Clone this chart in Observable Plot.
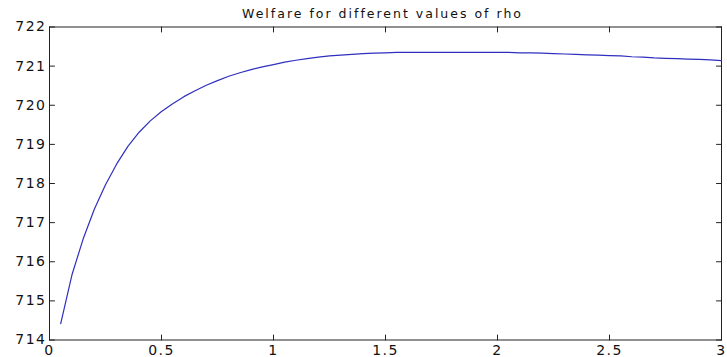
<!DOCTYPE html>
<html>
<head>
<meta charset="utf-8">
<script src="https://cdn.jsdelivr.net/npm/d3@7"></script>
<script src="https://cdn.jsdelivr.net/npm/@observablehq/plot@0.6"></script>
<style>
  html, body { margin: 0; padding: 0; background: #fff; }
  #chart svg text { letter-spacing: 1.5px; }
  #chart svg g.title text { letter-spacing: 2px; }
</style>
</head>
<body>
<div id="chart"></div>
<script>
const titleText = "Welfare for different values of rho";
const rho = [0.05,0.10,0.15,0.20,0.25,0.30,0.35,0.40,0.45,0.50,
             0.55,0.60,0.65,0.70,0.75,0.80,0.85,0.90,0.95,1.00,
             1.05,1.10,1.15,1.20,1.25,1.30,1.35,1.40,1.45,1.50,
             1.55,1.60,1.65,1.70,1.75,1.80,1.85,1.90,1.95,2.00,
             2.05,2.10,2.15,2.20,2.25,2.30,2.35,2.40,2.45,2.50,
             2.55,2.60,2.65,2.70,2.75,2.80,2.85,2.90,2.95,3.00];
const welfare = [714.42,715.66,716.58,717.34,717.97,718.50,718.95,719.31,719.60,719.84,
                 720.04,720.22,720.37,720.51,720.63,720.74,720.83,720.91,720.98,721.04,
                 721.10,721.15,721.19,721.23,721.26,721.28,721.30,721.32,721.33,721.34,
                 721.35,721.35,721.35,721.35,721.35,721.35,721.35,721.35,721.35,721.35,
                 721.35,721.34,721.34,721.33,721.32,721.31,721.30,721.29,721.28,721.27,
                 721.26,721.24,721.23,721.21,721.20,721.19,721.18,721.17,721.16,721.14];
const xTicks = [0, 0.5, 1, 1.5, 2, 2.5, 3];
const xTickLabels = ["0", "0.5", "1", "1.5", "2", "2.5", "3"];
const yTicks = [714, 715, 716, 717, 718, 719, 720, 721, 722];
const yTickLabels = ["714", "715", "716", "717", "718", "719", "720", "721", "722"];

const data = rho.map((r, i) => ({rho: r, welfare: welfare[i]}));
const axisColor = "#222";
const tickShape = {draw(context, l) { context.moveTo(0, 0); context.lineTo(0, -l); }};
const tickOpts = {length: 5, anchor: "start", shape: tickShape, stroke: axisColor, strokeWidth: 1};

const plot = Plot.plot({
  width: 727,
  height: 357,
  marginLeft: 49,
  marginRight: 6,
  marginTop: 26.5,
  marginBottom: 17.5,
  style: {fontFamily: "DejaVu Sans", fontSize: "14px", color: "#111", background: "#fff"},
  x: {domain: [0, 3]},
  y: {domain: [714, 722]},
  marks: [
    Plot.frame({stroke: axisColor, strokeWidth: 1}),
    // inward ticks on all four sides
    Plot.vector(xTicks, {x: (d) => d, frameAnchor: "bottom", rotate: 0, ...tickOpts}),
    Plot.vector(xTicks, {x: (d) => d, frameAnchor: "top", rotate: 180, ...tickOpts}),
    Plot.vector(yTicks, {y: (d) => d, frameAnchor: "left", rotate: 90, ...tickOpts}),
    Plot.vector(yTicks, {y: (d) => d, frameAnchor: "right", rotate: -90, ...tickOpts}),
    Plot.axisX(xTicks, {anchor: "bottom", tickSize: 0, tickPadding: 5.5,
      tickFormat: (d) => xTickLabels[xTicks.indexOf(d)], fill: "#111", label: null}),
    Plot.axisY(yTicks, {anchor: "left", tickSize: 0, tickPadding: 3,
      tickFormat: (d) => yTickLabels[yTicks.indexOf(d)], fill: "#111", label: null}),
    Plot.line(data, {x: "rho", y: "welfare", stroke: "#2f2fc0", strokeWidth: 1.2}),
    Plot.text([titleText], {frameAnchor: "top", text: (d) => d, dy: -9.5, dx: -3,
      lineAnchor: "bottom", fontSize: 12.5, fill: "#111", className: "title"})
  ]
});
document.getElementById("chart").appendChild(plot);
</script>
</body>
</html>
